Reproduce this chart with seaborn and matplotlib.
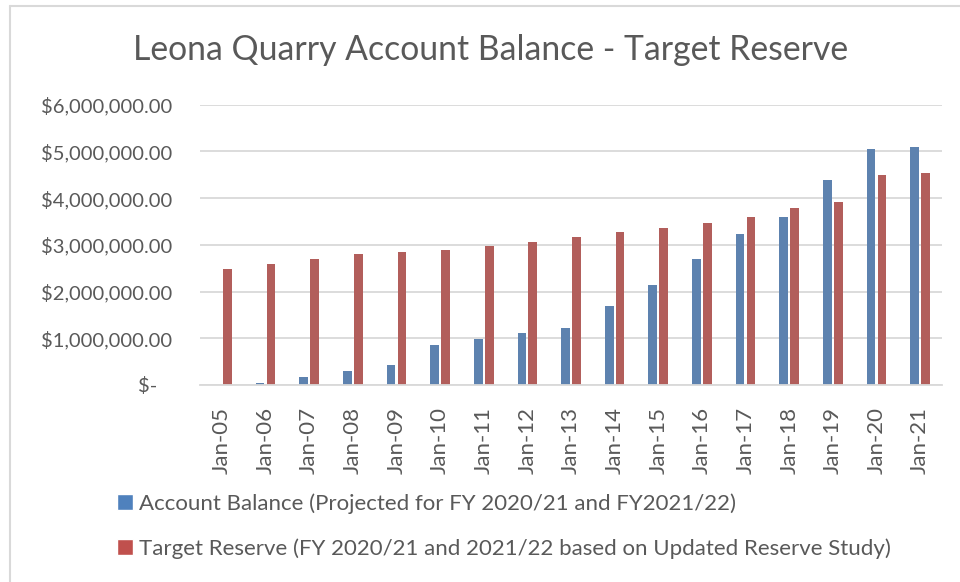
import pandas as pd
import seaborn as sns
import matplotlib.pyplot as plt
from matplotlib.patches import Patch
from matplotlib.lines import Line2D
from matplotlib.ticker import FuncFormatter, FixedLocator

# dados
datas = ["Jan-05", "Jan-06", "Jan-07", "Jan-08", "Jan-09", "Jan-10", "Jan-11", "Jan-12", "Jan-13",
         "Jan-14", "Jan-15", "Jan-16", "Jan-17", "Jan-18", "Jan-19", "Jan-20", "Jan-21"]
saldo = [0, 40000, 180000, 310000, 420000, 860000, 980000, 1110000, 1210000,
         1690000, 2130000, 2700000, 3230000, 3600000, 4380000, 5060000, 5090000]
reserva = [2480000, 2590000, 2700000, 2810000, 2840000, 2890000, 2980000, 3060000, 3170000,
           3280000, 3360000, 3470000, 3600000, 3780000, 3910000, 4490000, 4540000]
serie_saldo = "Account Balance (Projected for FY 2020/21 and FY2021/22)"
serie_reserva = "Target Reserve (FY 2020/21 and 2021/22 based on Updated Reserve Study)"
titulo = "Leona Quarry Account Balance - Target Reserve"

tabela = pd.DataFrame({
    "data": datas * 2,
    "valor": saldo + reserva,
    "serie": [serie_saldo] * len(datas) + [serie_reserva] * len(datas),
})

cores = {serie_saldo: "#4F81BD", serie_reserva: "#C0504D"}
cinza = "#595959"

sns.set_style("white")
plt.rcParams["font.family"] = ["Lato", "DejaVu Sans"]

fig = plt.figure(figsize=(9.6, 5.82), dpi=100)
ax = fig.add_axes([200 / 960, 1 - 385 / 582, 742 / 960, (385 - 104.7) / 582])

sns.barplot(data=tabela, x="data", y="valor", hue="serie", palette=cores,
            width=0.5, gap=0.2, ax=ax, legend=False, linewidth=0)

ax.set_ylim(0, 6000000)
ax.set_xlim(-0.5, len(datas) - 0.5)
ax.yaxis.set_major_locator(FixedLocator([i * 1000000 for i in range(7)]))


def dinheiro(v, pos):
    if v == 0:
        return "$-   "
    return "${:,.2f}".format(v)


ax.yaxis.set_major_formatter(FuncFormatter(dinheiro))
ax.grid(axis="y", color="#d9d9d9", linewidth=1.3)
ax.set_axisbelow(True)
for lado in ["top", "right", "left"]:
    ax.spines[lado].set_visible(False)
ax.spines["bottom"].set_color("#d9d9d9")
ax.spines["bottom"].set_linewidth(1.3)

ax.set_xlabel("")
ax.set_ylabel("")
ax.tick_params(axis="y", length=0, pad=20, labelsize=14.5, labelcolor=cinza)
ax.tick_params(axis="x", which="major", length=0, pad=16, labelsize=16, labelcolor=cinza, labelrotation=90)
ax.set_xticks([i - 0.5 for i in range(len(datas) + 1)], minor=True)
ax.tick_params(axis="x", which="minor", length=6, width=1.3, color="#d9d9d9", direction="out")

fig.text(491 / 960, 1 - 50 / 582, titulo, ha="center", va="center", fontsize=24.3, color=cinza)

alcas = [Patch(facecolor=cores[serie_saldo]), Patch(facecolor=cores[serie_reserva])]
fig.legend(alcas, [serie_saldo, serie_reserva], loc="upper left",
           bbox_to_anchor=(97 / 960, 1 - 473 / 582), frameon=False, fontsize=16,
           labelcolor=cinza, handlelength=0.7, handleheight=0.7, handletextpad=0.3,
           labelspacing=1.1)

# moldura do grafico
fig.add_artist(Line2D([9.5 / 960, 9.5 / 960], [0, 1 - 6 / 582], color="#d9d9d9", linewidth=1.5))
fig.add_artist(Line2D([9.5 / 960, 1], [1 - 6 / 582, 1 - 6 / 582], color="#d9d9d9", linewidth=1.5))

fig.savefig("out.png", dpi=100, facecolor="white")
